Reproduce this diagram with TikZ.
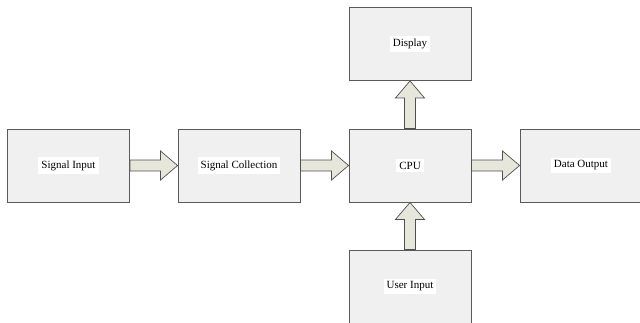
\documentclass[tikz,border=0pt]{standalone}
\usepackage{fontspec}
\setmainfont{Liberation Serif}
\usetikzlibrary{calc}

\definecolor{boxfill}{RGB}{240,240,240}
\definecolor{boxline}{RGB}{90,90,90}
\definecolor{arrowfill}{RGB}{230,230,218}
\definecolor{arrowline}{RGB}{80,80,80}

\begin{document}
\begin{tikzpicture}[
        x=1pt, y=1pt,
        unit/.style={draw=boxline, fill=boxfill, line width=0.9pt,
            minimum width=122pt, minimum height=73pt, inner sep=0pt,
            font=\fontsize{11}{13}\selectfont},
        blockarr/.style={draw=arrowline, fill=arrowfill, line width=0.7pt,
            to path={let \p1=(\tikztostart), \p2=(\tikztotarget),
                \n1={atan2(\y2-\y1,\x2-\x1)},
                \n2={veclen(\x2-\x1,\y2-\y1)} in
                [shift={(\p1)}, rotate=\n1]
                (0,-5.5) -- ({\n2-17},-5.5) -- ({\n2-17},-14.5) -- (\n2,0)
                -- ({\n2-17},14.5) -- ({\n2-17},5.5) -- (0,5.5) -- cycle}},
    ]
        \path[use as bounding box, clip] (0,0) rectangle (640,322);
        \fill[white] (0,0) rectangle (640,322);

        \node[unit] (sigin) at (68.5, 156.5) {\colorbox{white}{Signal Input}};
        \node[unit] (sigcol) at (239, 156.5) {\colorbox{white}{Signal Collection}};
        \node[unit] (cpu) at (410, 156.5) {\colorbox{white}{CPU}};
        \node[unit] (dataout) at (581, 156.5) {\colorbox{white}{Data Output}};
        \node[unit] (display) at (410, 278) {\colorbox{white}{Display}};
        \node[unit] (userin) at (410, 35.5) {\colorbox{white}{User Input}};

        \draw[blockarr] (sigin.east) to (sigcol.west);
        \draw[blockarr] (sigcol.east) to (cpu.west);
        \draw[blockarr] (cpu.east) to (dataout.west);
        \draw[blockarr] (cpu.north) to (display.south);
        \draw[blockarr] (userin.north) to (cpu.south);
    \end{tikzpicture}
\end{document}
